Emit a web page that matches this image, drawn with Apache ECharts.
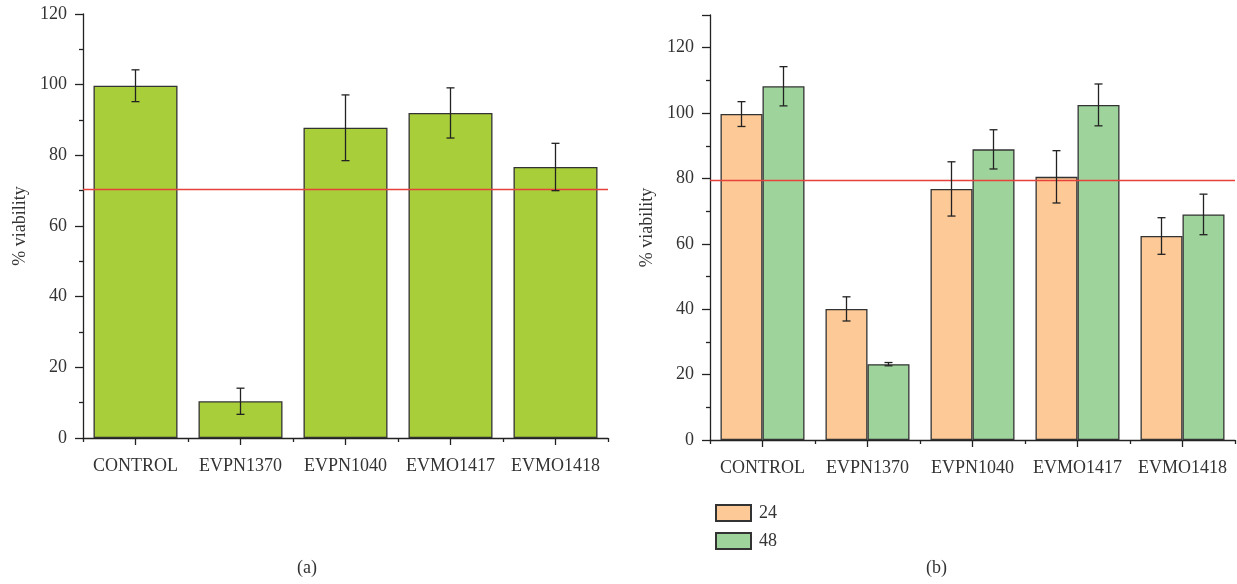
<!DOCTYPE html>
<html>
<head>
<meta charset="utf-8">
<script src="https://cdn.jsdelivr.net/npm/echarts@6/dist/echarts.min.js"></script>
<style>
html,body{margin:0;padding:0;background:#fff;}
#chart{width:1237px;height:584px;}
</style>
</head>
<body>
<div id="chart"></div>
<script>
// ---- data ----
const categories = ['CONTROL', 'EVPN1370', 'EVPN1040', 'EVMO1417', 'EVMO1418'];
const viabilityA = [99.7, 10.4, 87.8, 92.0, 76.7];
const errorA = [4.5, 3.7, 9.3, 7.1, 6.7];
const viability24 = [99.7, 40.1, 76.8, 80.5, 62.4];
const error24 = [3.8, 3.7, 8.3, 8.0, 5.6];
const viability48 = [108.2, 23.2, 88.9, 102.5, 69.0];
const error48 = [6.0, 0.5, 6.0, 6.4, 6.2];
const thresholdA = 70.5;
const thresholdB = 79.5;
const yTicksA = [0, 20, 40, 60, 80, 100, 120];
const yTicksB = [0, 20, 40, 60, 80, 100, 120];
const seriesNames = ['24', '48'];

const FONT = '"Liberation Serif", "DejaVu Serif", serif';
const FS = 18;
const TXT = '#333';
const AX = '#222';

function errRender(offsetFrac) {
  return function (params, api) {
    const x = api.value(0), v = api.value(1), e = api.value(2);
    const band = api.size([1, 0])[0];
    const cx = api.coord([x, v])[0] + offsetFrac * band;
    const top = api.coord([x, v + e])[1];
    const bot = api.coord([x, v - e])[1];
    const w = 4;
    const st = { stroke: AX, lineWidth: 1.3 };
    return {
      type: 'group',
      children: [
        { type: 'line', shape: { x1: cx, y1: top, x2: cx, y2: bot }, style: st },
        { type: 'line', shape: { x1: cx - w, y1: top, x2: cx + w, y2: top }, style: st },
        { type: 'line', shape: { x1: cx - w, y1: bot, x2: cx + w, y2: bot }, style: st }
      ]
    };
  };
}

function yAxisDef(gridIndex, max, ticks) {
  return {
    gridIndex: gridIndex, type: 'value', min: 0, max: max, interval: ticks[1] - ticks[0],
    name: '% viability', nameLocation: 'middle', nameGap: 54,
    nameTextStyle: { fontFamily: FONT, fontSize: FS, color: TXT },
    axisLine: { show: true, lineStyle: { color: AX, width: 1.3 } },
    axisTick: { show: true, length: 8, lineStyle: { color: AX, width: 1.3 } },
    minorTick: { show: true, splitNumber: 2, length: 4, lineStyle: { color: AX, width: 1.3 } },
    splitLine: { show: false },
    axisLabel: {
      fontFamily: FONT, fontSize: FS, color: TXT, margin: 16,
      formatter: function (val) { return ticks.indexOf(val) >= 0 ? String(val) : ''; }
    }
  };
}
function xAxisMain(gridIndex) {
  return {
    gridIndex: gridIndex, type: 'category', data: categories,
    axisLine: { show: true, lineStyle: { color: AX, width: 1.3 } },
    axisTick: { show: true, alignWithLabel: true, length: 7, lineStyle: { color: AX, width: 1.3 } },
    axisLabel: { fontFamily: FONT, fontSize: FS, color: TXT, margin: 19, interval: 0 }
  };
}
function xAxisMinor(gridIndex) {
  return {
    gridIndex: gridIndex, type: 'category', data: categories, position: 'bottom',
    axisLine: { show: false },
    axisTick: { show: true, alignWithLabel: false, interval: 0, length: 4, lineStyle: { color: AX, width: 1.3 } },
    axisLabel: { show: false }
  };
}
const redLine = function (val) {
  return {
    silent: true, symbol: 'none', label: { show: false },
    lineStyle: { color: '#E8403A', width: 1.3, type: 'solid' },
    data: [{ yAxis: val }]
  };
};
const barBorder = { borderColor: '#333', borderWidth: 1.3 };

const chart = echarts.init(document.getElementById('chart'), null, { renderer: 'canvas' });
chart.setOption({
  animation: false,
  backgroundColor: '#fff',
  grid: [
    { left: 83, top: 14, width: 525, height: 424 },
    { left: 710, top: 15, width: 525, height: 425 }
  ],
  xAxis: [xAxisMain(0), xAxisMinor(0), xAxisMain(1), xAxisMinor(1)],
  yAxis: [yAxisDef(0, 120, yTicksA), yAxisDef(1, 130, yTicksB)],
  legend: {
    left: 710, top: 499, orient: 'vertical', itemWidth: 35, itemHeight: 16, itemGap: 10,
    icon: 'rect',
    data: seriesNames,
    textStyle: { fontFamily: FONT, fontSize: FS, color: TXT, padding: [0, 0, 0, 3] }
  },
  graphic: [
    { type: 'text', left: 297, top: 559, style: { text: '(a)', font: FS + 'px ' + FONT, fill: TXT } },
    { type: 'text', left: 926, top: 559, style: { text: '(b)', font: FS + 'px ' + FONT, fill: TXT } }
  ],
  series: [
    {
      type: 'bar', xAxisIndex: 0, yAxisIndex: 0, data: viabilityA, barWidth: '80%',
      itemStyle: Object.assign({ color: '#A8CE3A' }, barBorder),
      markLine: redLine(thresholdA), z: 2
    },
    {
      type: 'custom', xAxisIndex: 0, yAxisIndex: 0, renderItem: errRender(0), z: 5,
      encode: { x: 0, y: 1 },
      data: categories.map((c, i) => [i, viabilityA[i], errorA[i]])
    },
    {
      name: seriesNames[0], type: 'bar', xAxisIndex: 2, yAxisIndex: 1, data: viability24,
      barGap: '0%', barCategoryGap: '20%',
      itemStyle: Object.assign({ color: '#FDC996' }, barBorder), z: 2
    },
    {
      name: seriesNames[1], type: 'bar', xAxisIndex: 2, yAxisIndex: 1, data: viability48,
      barGap: '0%', barCategoryGap: '20%',
      itemStyle: Object.assign({ color: '#9ED39B' }, barBorder),
      markLine: redLine(thresholdB), z: 2
    },
    {
      type: 'custom', xAxisIndex: 2, yAxisIndex: 1, renderItem: errRender(-0.2), z: 5,
      encode: { x: 0, y: 1 },
      data: categories.map((c, i) => [i, viability24[i], error24[i]])
    },
    {
      type: 'custom', xAxisIndex: 2, yAxisIndex: 1, renderItem: errRender(0.2), z: 5,
      encode: { x: 0, y: 1 },
      data: categories.map((c, i) => [i, viability48[i], error48[i]])
    }
  ]
});
</script>
</body>
</html>
